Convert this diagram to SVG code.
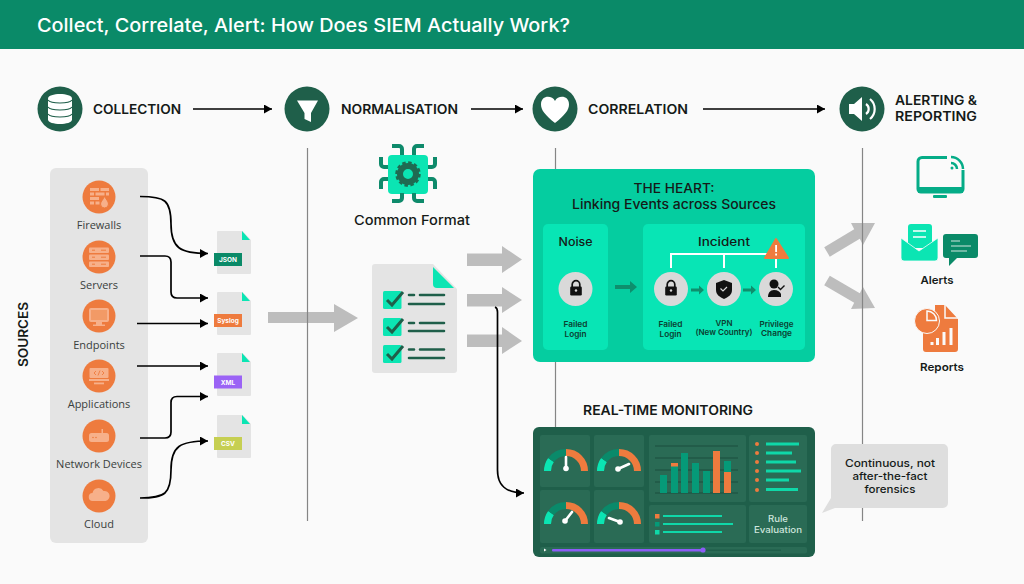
<svg xmlns="http://www.w3.org/2000/svg" width="1024" height="584" viewBox="0 0 1024 584">
<style>
text{font-family:"Inter","Liberation Sans",sans-serif;fill:#151a18}
.ph{font-size:13px;font-weight:600}
.src{font-family:"Open Sans","Liberation Sans",sans-serif;font-size:11px;fill:#3a3f3d;text-anchor:middle}
.c{text-anchor:middle}
.sm{font-size:8px;font-weight:600;text-anchor:middle;fill:#0b3d30}
.cn{fill:none;stroke:#000;stroke-width:1.7;marker-end:url(#ah)}
.v{stroke:#858585;stroke-width:1.2;fill:none}
.ga{fill:#bdbdbd}
.pc{fill:#1f5f4a}
.or{fill:#ee7b3e}
.orl{fill:#f7b08a}
.doc{fill:#e4e4e4}
.tip{fill:#0be5b3}
.tag{font-size:6.500px;font-weight:700;fill:#fff;text-anchor:middle}
.pn{fill:#2a6b55}
.g0{fill:none;stroke-width:7}
.nd{stroke:#fff;stroke-width:2.600;stroke-linecap:round;fill:none}
.grid{stroke:#1a4f3f;stroke-width:1}
.b1{fill:#059a78}.b2{fill:#ee7b3e}
.li{fill:#0fd8a8}
.w{fill:#fff}
.gc{fill:#d9d9d9}
.k{fill:#111}
.da{fill:#0e8f6d}
.lb{font-size:11px;font-weight:600}
</style>
<defs>
<marker id="ah" markerUnits="userSpaceOnUse" markerWidth="9" markerHeight="10" refX="8" refY="4.500" orient="auto"><path d="M0 0L8 4.500L0 9z" fill="#000"/></marker>
<g id="file"><path class="doc" d="M218.500 0h24l8.500 9v33a1 1 0 0 1-1 1h-32a1 1 0 0 1-1-1v-41a1 1 0 0 1 1-1z"/><path class="tip" d="M242 0l8 9h-8z"/></g>
<g id="gauge"><path class="g0" d="M-18.500 0A18.500 18.500 0 0 1-15 -11" stroke="#0be5b3"/><path class="g0" d="M-15 -11A18.500 18.500 0 0 1 0 -18.500" stroke="#0a8a6a"/><path class="g0" d="M0 -18.500A18.500 18.500 0 0 1 18.500 0" stroke="#ee7b3e"/></g>
<g id="lock"><path d="M-3.800-1v-2.500a3.800 3.800 0 0 1 7.600 0V-1" fill="none" stroke="#111" stroke-width="1.700"/><rect x="-5.800" y="-1.500" width="11.600" height="9" rx="1.200" class="k"/><circle cy="2.500" r="1.200" fill="#d9d9d9"/></g>
</defs>
<rect width="1024" height="584" fill="#fafafa"/>
<rect width="1024" height="49" fill="#0a8a68"/>
<text x="37" y="32" font-size="18.500" font-weight="500" style="fill:#fff" textLength="533" lengthAdjust="spacingAndGlyphs">Collect, Correlate, Alert: How Does SIEM Actually Work?</text>

<g id="flow-arrows">
<path class="ga" d="M268 312H334V304L358 318L334 332V323H268z"/>
<path class="ga" d="M467 253.500H502V246L522 259.500L502 273V266H467z"/>
<path class="ga" d="M467 294H502V287L522 300L502 313V306.500H467z"/>
<path class="ga" d="M467 334.500H502V327L522 341L502 354V347H467z"/>
<path class="ga" d="M824.200 247.300L854.200 229.300L851 223L875 223L863 245L859.800 238.700L829.800 256.700z"/>
<path class="ga" d="M829.800 275.800L859.800 293.300L863 287L875 308L851 309L854.200 302.700L824.200 285.200z"/>
</g>
<g id="guides">
<path class="v" d="M307.500 148V521M555.500 148V170M555.500 362V427M862.500 148V521"/>
</g>

<g id="phase-collection"><circle cx="60" cy="109" r="22.500" class="pc"/>
<path d="M48 98.500c0-6 24-6 24 0v21c0 6-24 6-24 0z" fill="#fff"/><path d="M48 100c3 4 21 4 24 0M48 107c3 4 21 4 24 0M48 114c3 4 21 4 24 0" fill="none" stroke="#1f5f4a" stroke-width="1.200"/>
<text x="93" y="114" class="ph" textLength="88" lengthAdjust="spacingAndGlyphs">COLLECTION</text></g>
<g id="phase-normalisation"><circle cx="307" cy="109" r="22.500" class="pc"/><path d="M297 100.500H318L311 113V122L304.500 119V113z" fill="#fff"/>
<text x="341" y="114" class="ph" textLength="117" lengthAdjust="spacingAndGlyphs">NORMALISATION</text></g>
<g id="phase-correlation"><circle cx="555" cy="109" r="22.500" class="pc"/><path d="M555 123C545 115 541 110 541 104.500C541 95 552 95 555 101C558 95 569 95 569 104.500C569 110 565 115 555 123z" fill="#fff"/>
<text x="588" y="114" class="ph" textLength="100" lengthAdjust="spacingAndGlyphs">CORRELATION</text></g>
<g id="phase-alerting"><circle cx="862" cy="109" r="22.500" class="pc"/><path d="M849 104h5l8-7v24l-8-7h-5z" fill="#fff"/><path d="M866 104a6 6 0 0 1 0 10M870 99a13 13 0 0 1 0 20" fill="none" stroke="#fff" stroke-width="2.200"/>
<text x="895" y="105" class="ph" textLength="82" lengthAdjust="spacingAndGlyphs">ALERTING &amp;</text><text x="895" y="121" class="ph" textLength="82" lengthAdjust="spacingAndGlyphs">REPORTING</text></g>

<text x="28" y="334.500" class="ph c" transform="rotate(-90 28 334.500)" textLength="65" lengthAdjust="spacingAndGlyphs">SOURCES</text>
<rect id="sources-panel" x="50" y="168" width="98" height="375" rx="6" fill="#e4e4e4"/>

<g id="src-firewalls"><circle cx="99" cy="197" r="16.500" class="or"/><path class="orl" d="M90 188h9v3h-9zM100.500 188h8.500v3h-8.500zM90 192.500h4v3h-4zM95.500 192.500h9v3h-9zM106 192.500h3v3h-3zM90 197h9v3h-9zM90 201.500h4v3h-4zM95.500 201.500h4v3h-4z"/><path d="M104.500 196c1 3 4 5 4 8a4 4 0 0 1-8 0c0-3 3-4 4-8z" class="orl" stroke="#ee7b3e"/><text x="99" y="229" class="src">Firewalls</text></g>
<g id="src-servers"><circle cx="99" cy="257" r="16.500" class="or"/><rect x="89" y="247.500" width="20" height="5.500" rx="1" class="orl"/><rect x="89" y="254.500" width="20" height="5.500" rx="1" class="orl"/><rect x="89" y="261.500" width="20" height="5.500" rx="1" class="orl"/><path d="M92 250.200h3M92 257.200h3M92 264.200h3M101 250.200h5M101 257.200h5M101 264.200h5" stroke="#ee7b3e" stroke-width="1"/><text x="99" y="289" class="src">Servers</text></g>
<g id="src-endpoints"><circle cx="99" cy="316" r="16.500" class="or"/><rect x="90" y="309" width="18" height="12" rx="1" fill="#f29a66" stroke="#f7b08a" stroke-width="2"/><path d="M96 322h6v2.500h3v1.500h-12v-1.500h3z" class="orl"/><text x="99" y="349" class="src">Endpoints</text></g>
<g id="src-applications"><circle cx="99" cy="376" r="16.500" class="or"/><rect x="89.500" y="368" width="19" height="10" rx="1" class="orl"/><path d="M96 371l-2 2l2 2M102 371l2 2l-2 2M100 370.500l-2 5" fill="none" stroke="#ee7b3e" stroke-width="0.900"/><rect x="89" y="379" width="20" height="2" class="orl"/><rect x="94" y="382.500" width="10" height="1.800" class="orl"/><text x="99" y="408" class="src">Applications</text></g>
<g id="src-network"><circle cx="99" cy="436" r="16.500" class="or"/><rect x="89" y="433" width="20" height="9" rx="2.500" class="orl"/><rect x="101.500" y="429" width="1.500" height="5" class="orl"/><circle cx="93" cy="437.500" r="0.800" class="or"/><circle cx="96" cy="437.500" r="0.800" class="or"/><text x="99" y="468" class="src">Network Devices</text></g>
<g id="src-cloud"><circle cx="99" cy="496" r="16.500" class="or"/><path d="M93 501a4 4 0 0 1-.5-8a6 6 0 0 1 11-2a4.500 4.500 0 0 1 2 10z" class="orl"/><text x="99" y="528" class="src">Cloud</text></g>

<g id="fmt-json"><use href="#file" y="231"/><rect x="214" y="253" width="28" height="13" fill="#0a8a68"/><text x="228" y="262" class="tag">JSON</text></g>
<g id="fmt-syslog"><use href="#file" y="292"/><rect x="214" y="314" width="28" height="13" fill="#ee7b3e"/><text x="228" y="323" class="tag">Syslog</text></g>
<g id="fmt-xml"><use href="#file" y="353"/><rect x="214" y="375.500" width="28" height="13" fill="#9b63f5"/><text x="228" y="384.500" class="tag">XML</text></g>
<g id="fmt-csv"><use href="#file" y="415"/><rect x="214" y="437" width="28" height="13" fill="#c6cf52"/><text x="228" y="446" class="tag">CSV</text></g>

<g id="connectors">
<path class="cn" d="M193 109H272"/><path class="cn" d="M471 109H523"/><path class="cn" d="M703 109H825"/>
<path class="cn" d="M140 196.500C165 196.500 171 200 171 224C171 248 180 253.500 208 253.500"/>
<path class="cn" d="M140 256H165Q171 256 171 262V292Q171 298 177 298H208"/>
<path class="cn" d="M137 323.500H208"/>
<path class="cn" d="M137 366H208"/>
<path class="cn" d="M140 438H165Q171 438 171 432V402.500Q171 396.500 177 396.500H208"/>
<path class="cn" d="M140 498C165 498 171 494 171 470C171 446 180 441 208 441"/>
<path class="cn" d="M495 307Q497.500 308 497.500 312V470C497.500 485 505 493 524 493"/>
</g>

<g id="common-format"><rect x="388" y="155" width="40" height="39" rx="4" fill="#0be5b3"/>
<g fill="none" stroke="#0e8a6b" stroke-width="4"><path d="M392 146h7a3 3 0 0 1 3 3v6M424 146h-7a3 3 0 0 0-3 3v6M392 201h7a3 3 0 0 0 3-3v-5M424 201h-7a3 3 0 0 1-3-3v-5M381 157v7a3 3 0 0 0 3 3h4M435 157v7a3 3 0 0 1-3 3h-4M381 189v-7a3 3 0 0 1 3-3h4M435 189v-7a3 3 0 0 0-3-3h-4"/></g>
<circle cx="408" cy="174" r="8" fill="none" stroke="#1f6b52" stroke-width="6"/><circle cx="408" cy="174" r="11.500" fill="none" stroke="#1f6b52" stroke-width="2.500" stroke-dasharray="3.500 2.500"/>
<text x="412" y="225" class="c" font-size="13" font-weight="500" textLength="116" lengthAdjust="spacingAndGlyphs">Common Format</text></g>

<g id="checklist"><path class="doc" d="M375 264H433L457 289V370a3 3 0 0 1-3 3H375a3 3 0 0 1-3-3V267a3 3 0 0 1 3-3z"/><path class="tip" d="M433 267L454 288H437a4 4 0 0 1-4-4z"/>
<g fill="#0be5b3"><rect x="383" y="291" width="18.500" height="18" rx="1.500"/><rect x="383" y="318" width="18.500" height="18" rx="1.500"/><rect x="383" y="345" width="18.500" height="18" rx="1.500"/></g>
<g fill="none" stroke="#1f5f4a" stroke-width="3"><path d="M387 300l5 5l11-13M387 327l5 5l11-13M387 354l5 5l11-13"/></g>
<g stroke="#1f5f4a" stroke-width="2.600" stroke-linecap="round"><path d="M409 295h5M420 295h24M409 304h35M409 323h5M420 323h24M409 331h35M409 349.500h5M420 349.500h24M409 358h35"/></g></g>

<g id="heart-panel"><rect x="533" y="169" width="282" height="193" rx="7" fill="#05cda0"/>
<text x="674" y="193" class="c" font-size="13" font-weight="500" textLength="81" lengthAdjust="spacingAndGlyphs">THE HEART:</text>
<text x="674" y="209" class="c" font-size="13" font-weight="500" textLength="204" lengthAdjust="spacingAndGlyphs">Linking Events across Sources</text>
<rect x="543" y="224" width="65" height="126" rx="5" fill="#08e5b5"/><rect x="643" y="224" width="162" height="126" rx="5" fill="#08e5b5"/>
<text x="575.500" y="246" class="c" font-size="11.500" font-weight="500" textLength="34" lengthAdjust="spacingAndGlyphs">Noise</text><text x="724" y="246" class="c" font-size="11.500" font-weight="500" textLength="52" lengthAdjust="spacingAndGlyphs">Incident</text>
<path d="M671 268V254H776V268M724 254V268" fill="none" stroke="#fff" stroke-width="2"/>
<path d="M776 239L788 258H765z" fill="#ee7b3e" stroke="#ee7b3e" stroke-width="2" stroke-linejoin="round"/><rect x="775.200" y="245" width="1.800" height="7" class="w"/><rect x="775.200" y="253.500" width="1.800" height="2" class="w"/>
<circle cx="575.500" cy="289" r="17" class="gc"/><circle cx="671" cy="289" r="17" class="gc"/><circle cx="724" cy="289" r="17" class="gc"/><circle cx="776" cy="289" r="17" class="gc"/>
<use href="#lock" x="576" y="288"/><use href="#lock" x="671" y="288"/>
<path d="M716 283l8-3l8 3v7c0 5-4 7-8 9c-4-2-8-4-8-9z" class="k"/><path d="M720.500 288.500l2.500 2.500l4-4" fill="none" stroke="#d9d9d9" stroke-width="1.200"/>
<circle cx="774" cy="284" r="4.500" class="k"/><path d="M768 297c0-4 2-7 6-7c4 0 6 2 7 4v3z" class="k"/><path d="M778 287l2.500 2.500l4-4" fill="none" stroke="#111" stroke-width="1.400"/>
<path class="da" d="M615 285H630V281L637 287L630 293V289H615z"/><path class="da" d="M691 288.500H699V285.500L704 290L699 294.500V291.500H691z"/><path class="da" d="M743 288.500H751V285.500L756 290L751 294.500V291.500H743z"/>
<text x="575.500" y="327" class="sm" textLength="24" lengthAdjust="spacingAndGlyphs">Failed</text><text x="575.500" y="336.500" class="sm" textLength="22" lengthAdjust="spacingAndGlyphs">Login</text>
<text x="670.500" y="327" class="sm" textLength="24" lengthAdjust="spacingAndGlyphs">Failed</text><text x="670.500" y="336.500" class="sm" textLength="22" lengthAdjust="spacingAndGlyphs">Login</text>
<text x="724" y="325.500" class="sm" textLength="17" lengthAdjust="spacingAndGlyphs">VPN</text><text x="724" y="335" class="sm" textLength="57" lengthAdjust="spacingAndGlyphs">(New Country)</text>
<text x="776.500" y="326.500" class="sm" textLength="34" lengthAdjust="spacingAndGlyphs">Privilege</text><text x="776.500" y="336" class="sm" textLength="31" lengthAdjust="spacingAndGlyphs">Change</text></g>

<text x="583" y="415" class="ph" textLength="170" lengthAdjust="spacingAndGlyphs">REAL-TIME MONITORING</text>
<g id="monitor-panel"><rect x="533" y="427" width="282" height="130" rx="6" class="pc"/>
<rect x="540" y="435" width="50" height="52" rx="2" class="pn"/><rect x="594" y="435" width="50" height="52" rx="2" class="pn"/><rect x="540" y="490" width="50" height="53" rx="2" class="pn"/><rect x="594" y="490" width="50" height="53" rx="2" class="pn"/>
<rect x="649" y="435" width="97" height="67" rx="2" class="pn"/><rect x="749" y="435" width="58" height="67" rx="2" class="pn"/><rect x="649" y="505" width="97" height="38" rx="2" class="pn"/><rect x="749" y="505" width="58" height="38" rx="2" class="pn"/><rect x="540" y="547" width="267" height="6.500" rx="2" class="pn"/>
<use href="#gauge" x="566" y="471"/><use href="#gauge" x="619" y="471"/><use href="#gauge" x="566" y="524"/><use href="#gauge" x="619" y="524"/>
<path class="nd" d="M566 468V457M618 469L629 464M565 521L572 512M620 522L609 518"/><circle cx="566" cy="468.500" r="2.800" class="w"/><circle cx="618" cy="469" r="2.800" class="w"/><circle cx="565" cy="521" r="2.800" class="w"/><circle cx="620" cy="522" r="2.800" class="w"/>
<path class="grid" d="M655 446H738M655 458H738M655 470H738M655 482H738M655 493H738"/>
<g class="b1"><rect x="660" y="475" width="7" height="18"/><rect x="671" y="466" width="7" height="27"/><rect x="681" y="453" width="7" height="40"/><rect x="692" y="463" width="7" height="30"/><rect x="703" y="471" width="7" height="22"/><rect x="724" y="461" width="7" height="11"/></g>
<g class="b2"><rect x="671" y="463" width="7" height="3.500"/><rect x="713" y="451" width="7" height="42"/><rect x="724" y="472" width="7" height="21"/></g>
<g class="b2"><circle cx="757" cy="444" r="2"/><circle cx="757" cy="453" r="2"/><circle cx="757" cy="462" r="2"/><circle cx="757" cy="471" r="2"/><circle cx="757" cy="480" r="2"/><circle cx="757" cy="490" r="2"/></g>
<g class="li"><rect x="766" y="442.500" width="33" height="3"/><rect x="766" y="451.500" width="26" height="3"/><rect x="766" y="460.500" width="30" height="3"/><rect x="766" y="469.500" width="35" height="3"/><rect x="766" y="478.500" width="23" height="3"/><rect x="766" y="488" width="32" height="3"/></g>
<rect x="655" y="514" width="4.500" height="4.500" class="b2"/><rect x="655" y="522" width="4.500" height="4.500" class="b1"/><rect x="655" y="530" width="4.500" height="4.500" class="li"/>
<g class="li"><rect x="663" y="515" width="59" height="2"/><rect x="663" y="523" width="70" height="2"/><rect x="663" y="531" width="59" height="2"/></g>
<text x="778" y="521.500" class="c" font-size="9" font-weight="500" style="fill:#cfe6dd" textLength="20" lengthAdjust="spacingAndGlyphs">Rule</text><text x="778" y="532.500" class="c" font-size="9" font-weight="500" style="fill:#cfe6dd" textLength="48" lengthAdjust="spacingAndGlyphs">Evaluation</text>
<path d="M544 548.500l2.500 1.500l-2.500 1.500z" class="w"/><rect x="552" y="549.500" width="229" height="1.500" fill="#1f5f4a"/><rect x="552" y="549" width="151" height="2.500" rx="1" fill="#8b5cf6"/><circle cx="703" cy="550" r="2.600" fill="#8b5cf6"/></g>

<g id="bubble"><path d="M836 444H943a5 5 0 0 1 5 5V503a5 5 0 0 1-5 5H835L822 513L831 498V449a5 5 0 0 1 5-5z" fill="#dedede"/>
<g class="c" font-size="10.500" font-weight="500"><text x="890" y="467" textLength="90" lengthAdjust="spacingAndGlyphs">Continuous, not</text><text x="890" y="480" textLength="75" lengthAdjust="spacingAndGlyphs">after-the-fact</text><text x="890" y="493" textLength="51" lengthAdjust="spacingAndGlyphs">forensics</text></g></g>

<g id="out-monitor"><path d="M947 157.500H922a4 4 0 0 0-4 4V189a3 3 0 0 0 3 3H960a3 3 0 0 0 3-3V170" fill="none" stroke="#05ac87" stroke-width="3"/><rect x="918" y="187" width="45" height="6" fill="#05ac87"/><rect x="933" y="195" width="14" height="3" rx="1" fill="#05ac87"/>
<path d="M951 157a12 12 0 0 1 12 12M951 163a6 6 0 0 1 6 6" fill="none" stroke="#05ac87" stroke-width="2.500"/><circle cx="952" cy="168" r="1.500" fill="#05ac87"/></g>
<g id="out-alerts"><rect x="908" y="224" width="24" height="24" rx="3" fill="#0be5b3"/><path d="M913 231h13M913 237h13" stroke="#fff" stroke-width="1.500"/><path d="M901 238L919 251L938 238V258a3 3 0 0 1-3 3H904a3 3 0 0 1-3-3z" fill="#0be5b3" stroke="#fafafa" stroke-width="0.800"/>
<path d="M946 234H975a3 3 0 0 1 3 3V255a3 3 0 0 1-3 3H957L949 266V258H946a3 3 0 0 1-3-3V237a3 3 0 0 1 3-3z" fill="#0a8a68"/><path d="M951 241h9M951 246h20M951 251h16" stroke="#cfe6dd" stroke-width="1.200"/>
<text x="937" y="284" class="c lb" textLength="33" lengthAdjust="spacingAndGlyphs">Alerts</text></g>
<g id="out-reports"><path d="M945 305L958 319V349a3 3 0 0 1-3 3H926a3 3 0 0 1-3-3V330H935V305z" class="or"/><path d="M945 305V318H958" fill="none" stroke="#fafafa" stroke-width="1.500"/><circle cx="927" cy="321" r="12.500" class="or" stroke="#fafafa" stroke-width="1"/><path d="M927 311a9.500 9.500 0 0 1 9.500 9.500H927z" class="or" stroke="#fafafa" stroke-width="1.500"/>
<path d="M932 345v-3M937.500 345v-7M944 345v-13M951 345v-17" stroke="#fafafa" stroke-width="3"/>
<text x="942" y="371" class="c lb" textLength="44" lengthAdjust="spacingAndGlyphs">Reports</text></g>
</svg>
